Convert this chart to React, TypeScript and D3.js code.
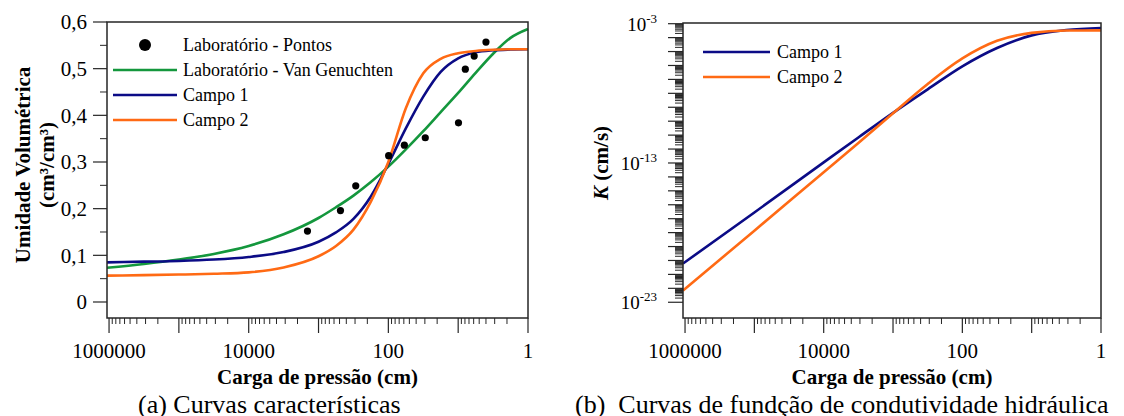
import React from 'react'
import * as d3 from 'd3'

const WIDTH = 1124
const HEIGHT = 416
const FONT = '"Liberation Serif", "Times New Roman", serif'

const GREEN = '#14973d'
const BLUE = '#0b0b86'
const ORANGE = '#ff6a14'
const AXIS = '#262626'

// pressure heads (cm) where the retention curves were read
const heads = [1070000, 316000, 100000, 31600, 10000, 3160, 1000, 562, 316, 178, 100, 56.2, 31.6, 17.8, 10, 5.62, 3.16, 1.78, 1]
const thetaVanGenuchten = [0.0735, 0.0815, 0.091, 0.103, 0.12, 0.145, 0.18, 0.203, 0.228, 0.257, 0.29, 0.327, 0.366, 0.407, 0.448, 0.491, 0.532, 0.566, 0.585]
const thetaCampo1 = [0.085, 0.0865, 0.088, 0.091, 0.0965, 0.107, 0.129, 0.149, 0.178, 0.226, 0.296, 0.372, 0.44, 0.493, 0.522, 0.535, 0.5395, 0.541, 0.5415]
const thetaCampo2 = [0.0564, 0.0575, 0.0588, 0.0605, 0.0635, 0.074, 0.098, 0.12, 0.155, 0.215, 0.3, 0.415, 0.49, 0.521, 0.533, 0.538, 0.5405, 0.5415, 0.5415]

// laboratory points
const labHeads = [1440, 485, 293, 99, 59, 29.6, 9.9, 7.9, 5.9, 4.0]
const labTheta = [0.152, 0.196, 0.249, 0.3135, 0.336, 0.352, 0.384, 0.499, 0.527, 0.557]

// hydraulic conductivity (cm/s)
const kHeads = [1070000, 100000, 10000, 3160, 1000, 316, 100, 31.6, 10, 3.16, 1]
const kCampo1 = [6.0e-21, 2.8e-17, 1.1e-13, 6.8e-12, 4.0e-10, 1.95e-8, 8.7e-7, 1.8e-5, 1.45e-4, 3.5e-4, 4.9e-4]
const kCampo2 = [6.9e-23, 1.38e-18, 2.2e-14, 2.75e-12, 3.7e-10, 4.7e-8, 3.2e-6, 5.9e-5, 2.2e-4, 3.25e-4, 3.3e-4]

const xTickLabels = [1000000, 10000, 100, 1]
const thetaTicks = [0, 0.1, 0.2, 0.3, 0.4, 0.5, 0.6]
const thetaTickLabels = ['0', '0,1', '0,2', '0,3', '0,4', '0,5', '0,6']
const kTickExponents = [-3, -13, -23]

const retentionLegend = ['Laboratório - Pontos', 'Laboratório - Van Genuchten', 'Campo 1', 'Campo 2']
const kLegend = ['Campo 1', 'Campo 2']

const A = { left: 107, right: 528, top: 22, bottom: 318 }
const B = { left: 683, right: 1101, top: 23, bottom: 318 }

const logMinor = (lo: number, hi: number) => {
  const out: number[] = []
  for (let k = lo; k < hi; k++) for (let m = 2; m <= 9; m++) out.push(m * Math.pow(10, k))
  return out
}

const XAxis = ({ scale, box }: any) => (
  <g>
    {d3.range(0, 7).map(k => {
      const x = scale(Math.pow(10, k))
      return <line key={'M' + k} x1={x} x2={x} y1={box.bottom} y2={box.bottom + 15} stroke={AXIS} strokeWidth={1.2} />
    })}
    {logMinor(0, 6).map((v, i) => {
      const x = scale(v)
      return <line key={'m' + i} x1={x} x2={x} y1={box.bottom} y2={box.bottom + 6} stroke={AXIS} strokeWidth={1} />
    })}
    {xTickLabels.map(v => (
      <text key={v} x={scale(v)} y={358} textAnchor="middle" fontSize={21}>{v}</text>
    ))}
    <text x={(box.left + box.right) / 2} y={384} textAnchor="middle" fontSize={21} fontWeight="bold">Carga de pressão (cm)</text>
  </g>
)

const Frame = ({ box }: any) => (
  <rect x={box.left} y={box.top} width={box.right - box.left} height={box.bottom - box.top} fill="none" stroke={AXIS} strokeWidth={1.5} />
)

const App = () => {
  const xA = d3.scaleLog().domain([1070000, 1]).range([A.left, A.right])
  const yA = d3.scaleLinear().domain([-0.0343, 0.6]).range([A.bottom, A.top])
  const xB = d3.scaleLog().domain([1070000, 1]).range([B.left, B.right])
  const yB = d3.scaleLog().domain([Math.pow(10, -24.13), Math.pow(10, -2.95)]).range([B.bottom, B.top])

  const lineA = d3.line<number>()
    .x((_, i) => xA(heads[i]))
    .y(d => yA(d))
    .curve(d3.curveMonotoneX)
  const lineB = d3.line<number>()
    .x((_, i) => xB(kHeads[i]))
    .y(d => yB(d))
    .curve(d3.curveMonotoneX)

  const thetaMinor = d3.range(0.05, 0.6, 0.1)

  return (
    <svg width={WIDTH} height={HEIGHT} style={{ position: 'absolute', left: 0, top: 0, background: '#fff', fontFamily: FONT }}>
      {/* (a) retention curves */}
      <g>
        <path d={lineA(thetaVanGenuchten) || ''} fill="none" stroke={GREEN} strokeWidth={2.6} />
        <path d={lineA(thetaCampo1) || ''} fill="none" stroke={BLUE} strokeWidth={2.6} />
        <path d={lineA(thetaCampo2) || ''} fill="none" stroke={ORANGE} strokeWidth={2.6} />
        {labHeads.map((h, i) => (
          <circle key={i} cx={xA(h)} cy={yA(labTheta[i])} r={3.6} fill="#000" />
        ))}
        <Frame box={A} />
        {thetaTicks.map((v, i) => (
          <g key={v}>
            <line x1={A.left - 14} x2={A.left} y1={yA(v)} y2={yA(v)} stroke={AXIS} strokeWidth={1.2} />
            <text x={87} y={yA(v)} dy="0.35em" textAnchor="end" fontSize={21}>{thetaTickLabels[i]}</text>
          </g>
        ))}
        {thetaMinor.map(v => (
          <line key={v} x1={A.left - 7} x2={A.left} y1={yA(v)} y2={yA(v)} stroke={AXIS} strokeWidth={1} />
        ))}
        <XAxis scale={xA} box={A} />
        <g fontSize={21} fontWeight="bold" textAnchor="middle">
          <text transform="translate(30,165) rotate(-90)">Umidade Volumétrica</text>
          <text transform="translate(54,165) rotate(-90)">(cm³/cm³)</text>
        </g>
        <g fontSize={18}>
          <circle cx={145} cy={45} r={6} fill="#000" />
          {[GREEN, BLUE, ORANGE].map((c, i) => (
            <line key={c} x1={113} x2={177} y1={70 + i * 25} y2={70 + i * 25} stroke={c} strokeWidth={2.6} />
          ))}
          {retentionLegend.map((t, i) => (
            <text key={t} x={183} y={45 + i * 25} dy="0.33em">{t}</text>
          ))}
        </g>
        <text x={138} y={413} fontSize={26}>(a) Curvas características</text>
      </g>

      {/* (b) hydraulic conductivity */}
      <g>
        <path d={lineB(kCampo1) || ''} fill="none" stroke={BLUE} strokeWidth={2.6} />
        <path d={lineB(kCampo2) || ''} fill="none" stroke={ORANGE} strokeWidth={2.6} />
        <Frame box={B} />
        {d3.range(-23, -2).map(k => {
          const y = yB(Math.pow(10, k))
          return <line key={k} x1={B.left - 15} x2={B.left} y1={y} y2={y} stroke={AXIS} strokeWidth={1.2} />
        })}
        {logMinor(-23, -3).map((v, i) => {
          const y = yB(v)
          return <line key={i} x1={B.left - 8} x2={B.left} y1={y} y2={y} stroke={AXIS} strokeWidth={1} />
        })}
        {kTickExponents.map(e => (
          <text key={e} x={657} y={yB(Math.pow(10, e)) + 7} textAnchor="end" fontSize={19}>
            10<tspan fontSize={13} dy={-8}>{e}</tspan>
          </text>
        ))}
        <XAxis scale={xB} box={B} />
        <text transform="translate(608,163) rotate(-90)" textAnchor="middle" fontSize={21} fontWeight="bold">
          <tspan fontStyle="italic">K</tspan> (cm/s)
        </text>
        <g fontSize={18}>
          {[BLUE, ORANGE].map((c, i) => (
            <line key={c} x1={703} x2={770} y1={52 + i * 25} y2={52 + i * 25} stroke={c} strokeWidth={2.6} />
          ))}
          {kLegend.map((t, i) => (
            <text key={t} x={777} y={52 + i * 25} dy="0.33em">{t}</text>
          ))}
        </g>
        <text x={575} y={413} fontSize={26} style={{ whiteSpace: 'pre' }}>(b)  Curvas de fundção de condutividade hidráulica</text>
      </g>
    </svg>
  )
}

export default App
